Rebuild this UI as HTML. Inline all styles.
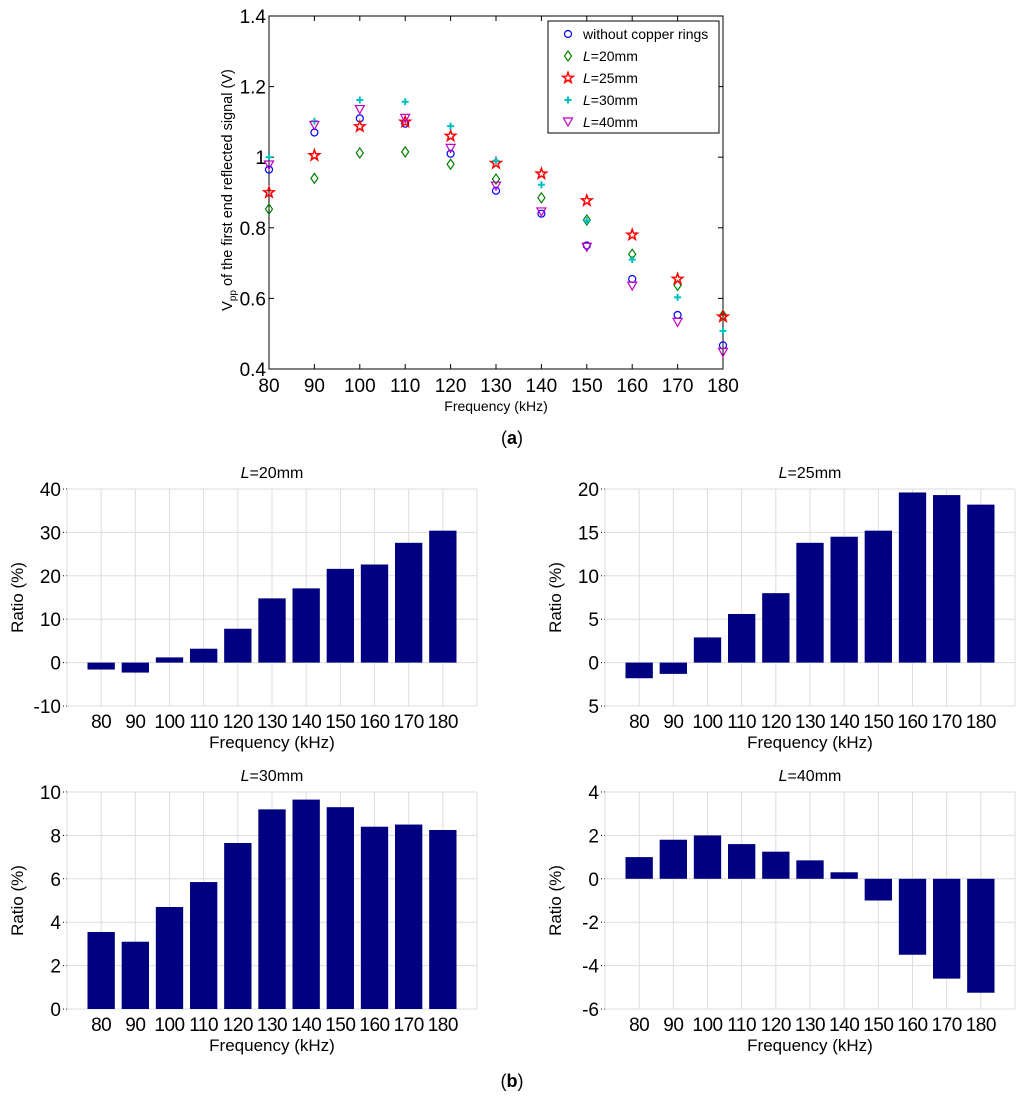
<!DOCTYPE html>
<html><head><meta charset="utf-8"><style>
body{margin:0;background:#fff;width:1024px;height:1099px;overflow:hidden}
svg text{font-family:"Liberation Sans",Arial,sans-serif;fill:#000}
</style></head><body>
<svg id="fig" width="1024" height="1099"></svg>
<script>
const freqs=[80,90,100,110,120,130,140,150,160,170,180];
const vNone=[.965,1.07,1.11,1.095,1.01,.905,.84,.75,.655,.553,.467];
const v20=[.853,.94,1.012,1.015,.98,.938,.885,.822,.725,.637,.552];
const v25=[.9,1.005,1.087,1.1,1.06,.983,.953,.877,.78,.655,.548];
const v30=[1.0,1.102,1.162,1.157,1.088,.99,.922,.82,.71,.603,.508];
const v40=[.978,1.09,1.135,1.11,1.025,.918,.845,.745,.635,.532,.447];
const topYTicks=[0.4,0.6,0.8,1,1.2,1.4];
const topYLabels=["0.4","0.6","0.8","1","1.2","1.4"];
const r20=[-1.6,-2.3,1.2,3.2,7.8,14.8,17.1,21.6,22.6,27.6,30.4];
const r25=[-1.8,-1.3,2.9,5.6,8.0,13.8,14.5,15.2,19.6,19.3,18.2];
const r30=[3.55,3.1,4.7,5.85,7.65,9.2,9.65,9.3,8.4,8.5,8.25];
const r40=[1.0,1.8,2.0,1.6,1.25,0.85,0.3,-1.0,-3.5,-4.6,-5.25];
const t20=[-10,0,10,20,30,40], l20=["-10","0","10","20","30","40"];
const t25=[-5,0,5,10,15,20], l25=["5","0","5","10","15","20"];
const t30=[0,2,4,6,8,10], l30=["0","2","4","6","8","10"];
const t40=[-6,-4,-2,0,2,4], l40=["-6","-4","-2","0","2","4"];

const NS="http://www.w3.org/2000/svg";
const svg=document.getElementById('fig');
function el(tag,attrs,parent){const e=document.createElementNS(NS,tag);for(const k in attrs)e.setAttribute(k,attrs[k]);(parent||svg).appendChild(e);return e;}
function txt(x,y,s,size,anchor,parent,extra){const t=el('text',Object.assign({x:x,y:y,'font-size':size,'text-anchor':anchor||'middle'},extra||{}),parent);t.textContent=s;return t;}

// ---- Top scatter ----
(function(){
const g=el('g',{});


const X0=269,X1=723,Y0=16,Y1=369;
const xs=f=>X0+(f-80)/100*(X1-X0);
const ys=v=>Y1-(v-0.4)/1.0*(Y1-Y0);
el('rect',{x:X0,y:Y0,width:X1-X0,height:Y1-Y0,fill:'none',stroke:'#000','stroke-width':1},g);
freqs.forEach(f=>{const x=xs(f);el('line',{x1:x,y1:Y1,x2:x,y2:Y1-5,stroke:'#000'},g);el('line',{x1:x,y1:Y0,x2:x,y2:Y0+5,stroke:'#000'},g);
 const t=txt(x,392,String(f),19,'middle',g);});
topYTicks.forEach((v,i)=>{const y=ys(v);el('line',{x1:X0,y1:y,x2:X0+5,y2:y,stroke:'#000'},g);el('line',{x1:X1,y1:y,x2:X1-5,y2:y,stroke:'#000'},g);
 const t=txt(X0-3,y+7,topYLabels[i],19,'end',g);});
const xt=txt(496,411,'Frequency (kHz)',14,'middle',g);
const yt=el('text',{x:0,y:0,'font-size':14.5,'text-anchor':'middle',transform:'translate(232,190) rotate(-90)'},g);
yt.innerHTML='V<tspan font-size="10" dy="4">pp</tspan><tspan dy="-4"> of the first end reflected signal (V)</tspan>';

function mark(type,x,y,c,p){
 if(type==='o')return el('circle',{cx:x,cy:y,r:3.5,fill:'none',stroke:c,'stroke-width':1.2},p);
 if(type==='d')return el('polygon',{points:`${x},${y-5} ${x+3.5},${y} ${x},${y+5} ${x-3.5},${y}`,fill:'none',stroke:c,'stroke-width':1.2},p);
 if(type==='s'){let pts=[];for(let k=0;k<10;k++){const r=k%2?2.2:5.5,a=-Math.PI/2+k*Math.PI/5;pts.push((x+r*Math.cos(a)).toFixed(1)+','+(y+r*Math.sin(a)).toFixed(1));}return el('polygon',{points:pts.join(' '),fill:'none',stroke:c,'stroke-width':1.5},p);}
 if(type==='+'){const gg=el('g',{},p);el('line',{x1:x-3.5,y1:y,x2:x+3.5,y2:y,stroke:c,'stroke-width':2},gg);el('line',{x1:x,y1:y-3.5,x2:x,y2:y+3.5,stroke:c,'stroke-width':2},gg);return gg;}
 if(type==='v')return el('polygon',{points:`${x-4.5},${y-4} ${x+4.5},${y-4} ${x},${y+4}`,fill:'none',stroke:c,'stroke-width':1.2},p);
}
const series=[[vNone,'o','#0000ff','without copper rings','none'],[v20,'d','#008000','=20mm','20'],[v25,'s','#ff0000','=25mm','25'],[v30,'+','#00c0c0','=30mm','30'],[v40,'v','#c000c0','=40mm','40']];
series.forEach(s=>{s[0].forEach((v,i)=>{const m=mark(s[1],xs(freqs[i]),ys(v),s[2],g);});});
const lg=el('g',{},g);
el('rect',{x:548,y:21,width:171,height:112,fill:'#fff',stroke:'#000'},lg);
series.forEach((s,i)=>{const y=34+i*22;mark(s[1],568,y,s[2],lg);
 const t=el('text',{x:583,y:y+5,'font-size':14},lg);
 if(i===0)t.textContent=s[3];else t.innerHTML='<tspan font-style="italic">L</tspan>'+s[3];
 });
})();
const la=txt(512,444,'',18,'middle',null,{'font-family':'Liberation Serif'});la.innerHTML='(<tspan font-weight="bold">a</tspan>)';

const lb=txt(512,1087,'',18,'middle',null,{'font-family':'Liberation Serif'});lb.innerHTML='(<tspan font-weight="bold">b</tspan>)';


// ---- bar charts ----
function barChart(X0,X1,Y0,Y1,vals,ticks,labels,title,name){
 const g=el('g',{});
 
 
 const mn=ticks[0],mx=ticks[ticks.length-1];
 const ys=v=>Y1-(v-mn)/(mx-mn)*(Y1-Y0);
 const xs=i=>X0+(i+1)/12*(X1-X0);
 const bw=(X1-X0)/12*0.8;
 ticks.forEach((v,i)=>{const y=ys(v);el('line',{x1:X0,y1:y,x2:X1,y2:y,stroke:'#ddd'},g);
  el('line',{x1:X0-4,y1:y,x2:X0,y2:y,stroke:'#000','stroke-dasharray':'1,2'},g);
  const t=txt(X0-6,y+7,labels[i],19,'end',g);});
 for(let i=0;i<=12;i++){const x=X0+i/12*(X1-X0);el('line',{x1:x,y1:Y0,x2:x,y2:Y1,stroke:'#ddd'},g);}
 vals.forEach((v,i)=>{const y=ys(Math.max(v,0)),h=Math.abs(ys(v)-ys(0));
  const b=el('rect',{x:xs(i)-bw/2,y:y,width:bw,height:h,fill:'#000080'},g);
  
  const t=txt(xs(i),Y1+22,String(freqs[i]),19,'middle',g,{'letter-spacing':'-0.5'});});
 const tt=txt((X0+X1)/2,Y0-11,'',16,'middle',g);tt.innerHTML='<tspan font-style="italic">L</tspan>='+title;
 
 const xt=txt((X0+X1)/2,Y1+42,'Frequency (kHz)',17,'middle',g);
 const yt=el('text',{x:0,y:0,'font-size':17,'text-anchor':'middle',transform:`translate(${X0-44},${(Y0+Y1)/2}) rotate(-90)`},g);
 yt.textContent='Ratio (%)';
}
barChart(67,477,489,706,r20,t20,l20,'20mm','bar-chart-l20');
barChart(605,1015,489,706,r25,t25,l25,'25mm','bar-chart-l25');
barChart(67,477,792,1009,r30,t30,l30,'30mm','bar-chart-l30');
barChart(605,1015,792,1009,r40,t40,l40,'40mm','bar-chart-l40');
</script>
</body></html>
